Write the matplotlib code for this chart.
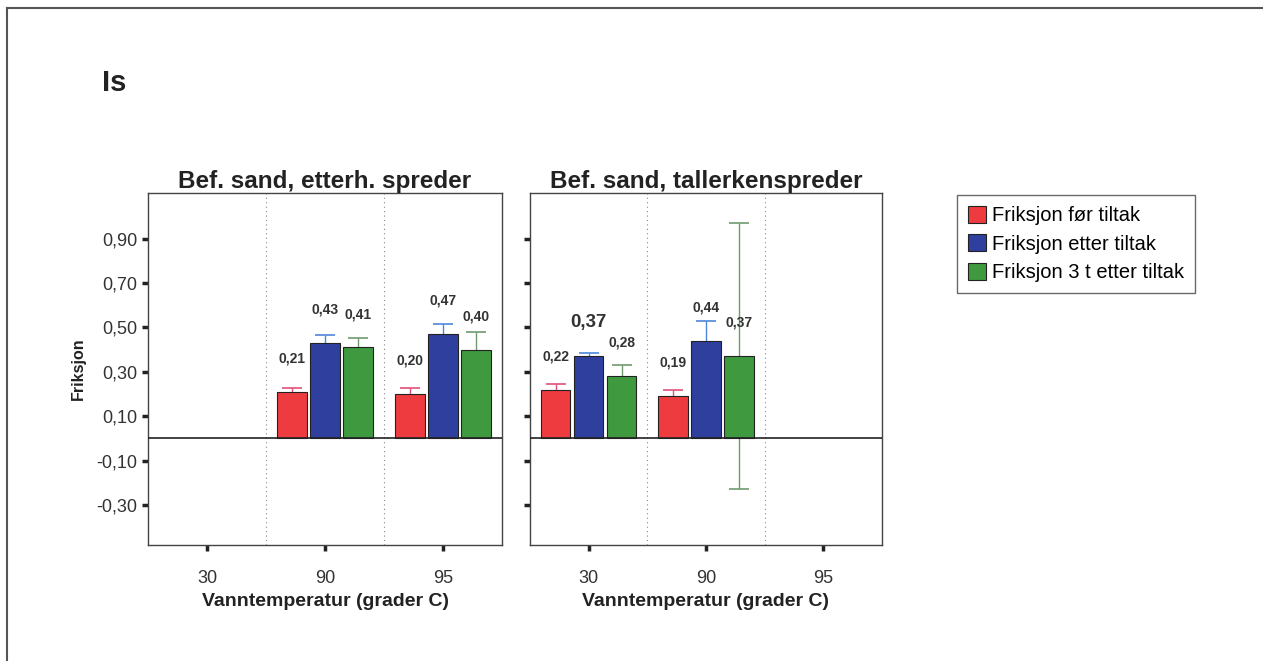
import matplotlib.pyplot as plt
import numpy as np

plt.rcParams["font.family"] = ["Liberation Sans", "DejaVu Sans"]

# Data
categories = ["30", "90", "95"]
series = ["Friksjon før tiltak", "Friksjon etter tiltak", "Friksjon 3 t etter tiltak"]
colors = ["#ee3b3f", "#2f3f9e", "#3f9a3f"]
err_colors = ["#e0507a", "#4f86dc", "#6f9a6f"]

# left panel: Bef. sand, etterh. spreder (no data at 30)
left_vals = [[np.nan, 0.21, 0.20],
             [np.nan, 0.43, 0.47],
             [np.nan, 0.41, 0.40]]
left_err = [[0, 0.015, 0.025],
            [0, 0.035, 0.047],
            [0, 0.04, 0.08]]

# right panel: Bef. sand, tallerkenspreder (no data at 95)
right_vals = [[0.22, 0.19, np.nan],
              [0.37, 0.44, np.nan],
              [0.28, 0.37, np.nan]]
right_err = [[0.027, 0.03, 0],
             [0.015, 0.09, 0],
             [0.05, 0.60, 0]]

panel_titles = ["Bef. sand, etterh. spreder", "Bef. sand, tallerkenspreder"]
yticks = [-0.30, -0.10, 0.10, 0.30, 0.50, 0.70, 0.90]

fig = plt.figure(figsize=(12.63, 6.61), dpi=100)
fig.patch.set_facecolor("white")

# outer frame of the scanned page
fig.add_artist(plt.Line2D([7 / 1263, 7 / 1263], [0, 1 - 8 / 661], transform=fig.transFigure, color="#555555", lw=1.5))
fig.add_artist(plt.Line2D([7 / 1263, 1], [1 - 8 / 661, 1 - 8 / 661], transform=fig.transFigure, color="#555555", lw=1.5))
fig.text(102 / 1263, 1 - 83 / 661, "Is", fontsize=21, fontweight="bold", va="center", ha="left", color="#222222")

ax1 = fig.add_axes([148 / 1263, 1 - 545 / 661, 354 / 1263, 352 / 661])
ax2 = fig.add_axes([530 / 1263, 1 - 545 / 661, 352 / 1263, 352 / 661])

x = np.arange(len(categories))
width = 0.25
offsets = [-0.28, 0, 0.28]

for k, (ax, vals, errs, title) in enumerate(zip([ax1, ax2], [left_vals, right_vals], [left_err, right_err], panel_titles)):
    for i in range(3):
        v = np.array(vals[i], dtype=float)
        e = np.array(errs[i], dtype=float)
        xs = x + offsets[i]
        mask = ~np.isnan(v)
        ax.errorbar(xs[mask], v[mask], yerr=e[mask], fmt="none", ecolor=err_colors[i],
                    elinewidth=1, capsize=7, capthick=1.2, zorder=2)
        ax.bar(xs[mask], v[mask], width, color=colors[i], edgecolor="#222222", linewidth=0.8,
               zorder=3, label=series[i])
        for xi, vi in zip(xs[mask], v[mask]):
            big = (k == 1 and i == 1 and xi < 0.5)
            ax.text(xi, vi + 0.15, f"{vi:.2f}".replace(".", ","), ha="center", va="center",
                    fontsize=13.5 if big else 10, fontweight="bold", color="#333333", zorder=5)
    for b in [0.5, 1.5]:
        ax.axvline(b, color="#888888", lw=0.8, ls=(0, (1, 3)), zorder=1)
    ax.axhline(0, color="#222222", lw=1.2, zorder=4)
    ax.set_xlim(-0.5, 2.5)
    ax.set_ylim(-0.48, 1.105)
    ax.set_xticks(x)
    ax.set_xticklabels(categories, fontsize=13, color="#333333")
    ax.set_yticks(yticks)
    ax.tick_params(axis="both", direction="out", length=4, width=2.5, color="#222222")
    ax.tick_params(axis="x", pad=14)
    ax.set_xlabel("Vanntemperatur (grader C)", fontsize=14, fontweight="bold", color="#222222", labelpad=4)
    ax.set_title(title, fontsize=17.5, fontweight="bold", color="#222222", pad=2)
    for s in ax.spines.values():
        s.set_color("#444444")
        s.set_linewidth(1)

ax1.set_yticklabels([f"{t:.2f}".replace(".", ",") for t in yticks], fontsize=13, color="#333333")
ax1.set_ylabel("Friksjon", fontsize=11.5, fontweight="bold", color="#222222", labelpad=8)
ax2.set_yticklabels([])

handles, labels = ax1.get_legend_handles_labels()
leg = fig.legend(handles, labels, loc="upper left", bbox_to_anchor=(957 / 1263, 1 - 195 / 661),
                 borderaxespad=0, fontsize=14.5, frameon=True, fancybox=False, edgecolor="#444444",
                 handlelength=0.9, handleheight=0.9, handletextpad=0.3, labelspacing=0.45,
                 borderpad=0.55)
leg.get_frame().set_linewidth(1)

fig.savefig("out.png", dpi=100)
